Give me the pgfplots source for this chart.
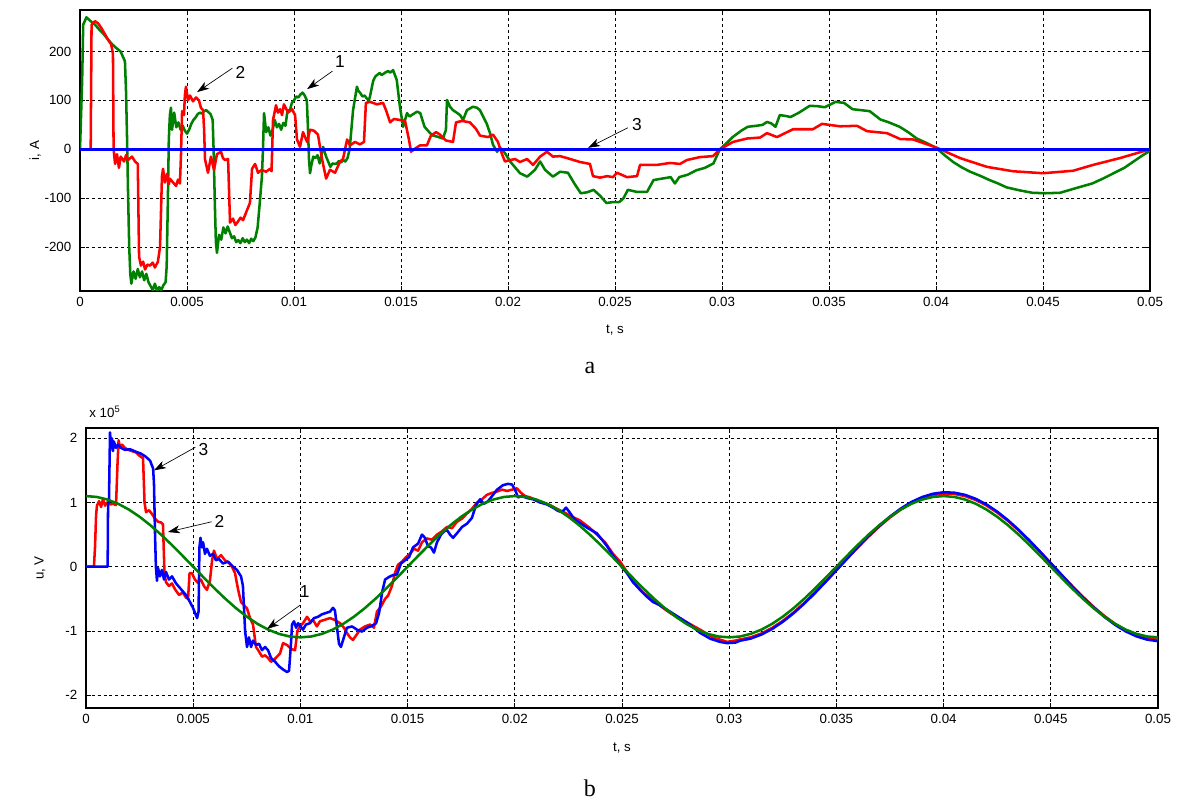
\documentclass[border=0pt]{standalone}
\usepackage{pgfplots}
\usepackage{pgfplotstable}
\pgfplotsset{compat=1.18}
\usepackage{fontspec}
\setmainfont{Liberation Sans}
\newfontfamily\serifface{Liberation Serif}
\usetikzlibrary{arrows.meta}
\definecolor{mred}{RGB}{255,0,0}
\definecolor{mgreen}{RGB}{0,128,0}
\definecolor{mblue}{RGB}{0,0,255}

% ---------- (a) currents, A ----------
\pgfplotstableread{
t i
0 0
0.0001 140
0.00015 255
0.0003 270
0.0005 262
0.0007 255
0.0009 245
0.0011 236
0.0013 225
0.0015 215
0.0017 207
0.0019 200
0.0020 190
0.0021 180
0.00215 120
0.0022 20
0.00225 -100
0.0023 -200
0.00235 -255
0.0024 -275
0.0025 -250
0.0026 -265
0.0027 -245
0.0028 -262
0.0029 -250
0.0030 -268
0.0031 -255
0.0032 -272
0.0033 -280
0.0034 -288
0.0035 -275
0.0036 -290
0.0037 -282
0.0038 -288
0.0039 -278
0.0040 -272
0.00405 -240
0.0041 -120
0.00415 20
0.0042 70
0.00425 85
0.0043 40
0.0044 75
0.0045 45
0.0046 55
0.0047 40
0.0048 48
0.0049 38
0.0050 32
0.0051 40
0.0052 52
0.0053 60
0.0054 65
0.0055 72
0.0056 75
0.0057 73
0.0058 78
0.0059 80
0.0060 76
0.0061 72
0.0062 60
0.00625 -10
0.0063 -110
0.00635 -190
0.0064 -212
0.0065 -175
0.0066 -185
0.0067 -160
0.0068 -172
0.0069 -158
0.0070 -170
0.0071 -182
0.0072 -178
0.0073 -190
0.0074 -186
0.0075 -192
0.0076 -182
0.0077 -190
0.0078 -185
0.0079 -192
0.0080 -183
0.0081 -188
0.0082 -180
0.0083 -160
0.0084 -110
0.0085 -56
0.00855 0
0.0086 74
0.0087 35
0.0088 45
0.0089 28
0.0090 40
0.0091 60
0.0092 45
0.0093 52
0.0094 40
0.0095 54
0.0096 48
0.0097 80
0.0098 78
0.0099 95
0.0100 100
0.0101 108
0.0102 106
0.0103 112
0.0104 116
0.0105 110
0.0106 100
0.01065 46
0.0107 -20
0.01075 -49
0.0108 -35
0.0109 -15
0.0110 -18
0.0111 -12
0.0112 -29
0.01136 5
0.0115 -15
0.0117 -36
0.0118 -29
0.0119 -30
0.0120 -29
0.0121 -24
0.0122 -27
0.0123 -22
0.0124 -25
0.0125 -18
0.0126 0
0.01276 80
0.01294 128
0.0130 120
0.0131 115
0.0132 108
0.0133 110
0.0134 104
0.0135 100
0.01355 108
0.0137 140
0.0138 149
0.0140 156
0.0141 152
0.0142 155
0.0143 158
0.0144 160
0.0145 157
0.01463 162
0.0148 142
0.01495 87
0.0151 46
0.01528 74
0.0154 67
0.0155 70
0.01575 77
0.0159 74
0.0161 46
0.01636 33
0.0165 28
0.01668 26
0.01696 22
0.0171 40
0.01715 101
0.01729 87
0.01743 80
0.0176 75
0.01776 70
0.0179 60
0.01808 80
0.01836 87
0.01855 85
0.01869 80
0.0190 53
0.01916 33
0.0193 9
0.01949 -5
0.01963 3
0.01986 -8
0.0201 -25
0.02056 -49
0.0209 -56
0.02126 -42
0.0215 -25
0.02173 -42
0.0221 -56
0.02243 -46
0.0228 -48
0.0231 -70
0.0234 -90
0.0237 -88
0.0240 -83
0.0243 -95
0.0246 -110
0.0249 -108
0.0252 -108
0.0254 -100
0.0256 -83
0.0260 -87
0.0265 -87
0.0268 -63
0.0272 -60
0.0276 -57
0.0278 -70
0.0280 -57
0.0284 -52
0.0288 -43
0.0292 -38
0.0296 -29
0.0299 0
0.0302 12
0.0305 25
0.0309 38
0.0312 46
0.0316 48
0.0319 50
0.0321 56
0.0323 53
0.0325 46
0.0327 70
0.0330 68
0.0332 66
0.0336 75
0.0341 89
0.0345 88
0.0348 86
0.0353 97
0.0357 95
0.0361 82
0.0365 80
0.0369 78
0.0374 61
0.0378 55
0.0383 46
0.0387 35
0.0391 22
0.0396 12
0.0400 3
0.0404 -12
0.0408 -26
0.0412 -37
0.0416 -46
0.0421 -55
0.0425 -63
0.0429 -70
0.0433 -78
0.0439 -84
0.0445 -89
0.0451 -90
0.0458 -89
0.0465 -80
0.0473 -70
0.0478 -60
0.0483 -49
0.0488 -38
0.0492 -26
0.0496 -14
0.0500 -3
}\curA

\pgfplotstableread{
t i
0 0
0.0005 0
0.00054 255
0.0007 262
0.00084 258
0.0010 248
0.00117 235
0.0013 225
0.00145 215
0.0015 205
0.00154 195
0.00157 0
0.00164 -30
0.00173 -10
0.00182 -38
0.0019 -15
0.00206 -25
0.00215 -12
0.00224 -22
0.00243 -15
0.00257 -25
0.0027 -30
0.00276 -220
0.00285 -238
0.00295 -230
0.00304 -246
0.00315 -236
0.00327 -238
0.0034 -232
0.0035 -242
0.00364 -230
0.00374 -200
0.00379 -120
0.00383 -55
0.00388 -40
0.00397 -68
0.00407 -50
0.00415 -72
0.0042 -60
0.00435 -68
0.00449 -75
0.00458 -62
0.00467 -70
0.00472 -10
0.00477 78
0.00486 70
0.0049 110
0.00495 128
0.00505 100
0.00514 110
0.00528 98
0.00542 106
0.00556 100
0.00565 85
0.00575 80
0.0058 40
0.00584 -20
0.00598 -48
0.00612 -15
0.00626 -42
0.0064 -10
0.00659 -5
0.00668 -18
0.00678 -22
0.00692 -20
0.00701 -150
0.00715 -142
0.00726 -155
0.00738 -148
0.0075 -140
0.00762 -145
0.0078 -125
0.00794 -110
0.00804 -40
0.00818 -30
0.00832 -48
0.0085 -42
0.00869 -46
0.00888 -40
0.00895 -45
0.00902 60
0.00916 90
0.00925 75
0.00935 82
0.00944 70
0.00953 92
0.00972 75
0.00991 82
0.01005 70
0.01014 20
0.01028 5
0.01042 35
0.01061 15
0.01075 40
0.01093 38
0.01112 30
0.01131 -20
0.0115 -60
0.01168 -42
0.01192 -48
0.01215 -25
0.01229 -20
0.01248 20
0.01262 8
0.01285 15
0.01308 10
0.01327 15
0.01336 95
0.01355 97
0.01388 92
0.01416 95
0.0143 80
0.01449 55
0.01467 62
0.01495 60
0.01519 58
0.01537 20
0.01547 -5
0.01561 0
0.01589 8
0.01621 8
0.0164 28
0.01664 35
0.01682 30
0.0171 18
0.01743 15
0.01757 55
0.01785 58
0.01822 55
0.0185 42
0.01869 28
0.01907 25
0.0193 30
0.01953 15
0.01972 -10
0.01986 -25
0.0201 -22
0.02033 -20
0.02056 -26
0.02089 -20
0.02117 -32
0.0215 -15
0.02182 -5
0.0221 -15
0.02243 -14
0.02276 -18
0.02336 -26
0.02383 -30
0.02397 -55
0.0243 -58
0.02463 -55
0.02491 -57
0.02509 -48
0.02556 -57
0.02603 -55
0.02617 -32
0.02696 -32
0.02757 -28
0.02804 -30
0.02836 -22
0.02897 -16
0.02958 -14
0.02991 0
0.03051 15
0.03117 22
0.03178 24
0.0321 33
0.03257 25
0.03332 41
0.03425 41
0.03467 52
0.03551 47
0.03631 48
0.03678 37
0.03771 33
0.03832 21
0.03893 20
0.04005 3
0.04112 -18
0.04238 -36
0.0436 -45
0.045 -49
0.0464 -44
0.04734 -32
0.0486 -18
0.05 0
}\curB

\pgfplotstableread{
t i
0 0
0.05 0
}\curC

% ---------- (b) voltages, 10^5 V ----------
\pgfplotstableread{
t u
0 1.1
0.0005 1.0865
0.001 1.0462
0.0015 0.9801
0.002 0.8899
0.0025 0.7778
0.003 0.6466
0.0035 0.4994
0.004 0.3399
0.0045 0.1720
0.005 0
0.0055 -0.1720
0.006 -0.3399
0.0065 -0.4994
0.007 -0.6466
0.0075 -0.7778
0.008 -0.8899
0.0085 -0.9801
0.009 -1.0462
0.0095 -1.0865
0.01 -1.1
0.0105 -1.0865
0.011 -1.0462
0.0115 -0.9801
0.012 -0.8899
0.0125 -0.7778
0.013 -0.6466
0.0135 -0.4994
0.014 -0.3399
0.0145 -0.1720
0.015 0
0.0155 0.1720
0.016 0.3399
0.0165 0.4994
0.017 0.6466
0.0175 0.7778
0.018 0.8899
0.0185 0.9801
0.019 1.0462
0.0195 1.0865
0.02 1.1
0.0205 1.0865
0.021 1.0462
0.0215 0.9801
0.022 0.8899
0.0225 0.7778
0.023 0.6466
0.0235 0.4994
0.024 0.3399
0.0245 0.1720
0.025 0
0.0255 -0.1720
0.026 -0.3399
0.0265 -0.4994
0.027 -0.6466
0.0275 -0.7778
0.028 -0.8899
0.0285 -0.9801
0.029 -1.0462
0.0295 -1.0865
0.03 -1.1
0.0305 -1.0865
0.031 -1.0462
0.0315 -0.9801
0.032 -0.8899
0.0325 -0.7778
0.033 -0.6466
0.0335 -0.4994
0.034 -0.3399
0.0345 -0.1720
0.035 0
0.0355 0.1720
0.036 0.3399
0.0365 0.4994
0.037 0.6466
0.0375 0.7778
0.038 0.8899
0.0385 0.9801
0.039 1.0462
0.0395 1.0865
0.04 1.1
0.0405 1.0865
0.041 1.0462
0.0415 0.9801
0.042 0.8899
0.0425 0.7778
0.043 0.6466
0.0435 0.4994
0.044 0.3399
0.0445 0.1720
0.045 0
0.0455 -0.1720
0.046 -0.3399
0.0465 -0.4994
0.047 -0.6466
0.0475 -0.7778
0.048 -0.8899
0.0485 -0.9801
0.049 -1.0462
0.0495 -1.0865
0.05 -1.1
}\volA

\pgfplotstableread{
t u
0 0
0.00037 0
0.00042 0.3
0.00047 0.8
0.00051 0.95
0.00061 1.02
0.0007 0.93
0.00079 1.05
0.00089 0.95
0.00098 1.0
0.00112 0.97
0.00126 0.98
0.0014 0.96
0.00147 1.6
0.00152 1.97
0.00159 1.85
0.00168 1.9
0.00182 1.85
0.00196 1.82
0.00215 1.8
0.00233 1.78
0.00252 1.72
0.00266 1.69
0.00273 1.0
0.0028 0.85
0.00294 0.88
0.00308 0.82
0.00322 0.75
0.00336 0.7
0.0035 0.69
0.00359 0.66
0.00366 -0.1
0.00373 -0.24
0.00387 -0.3
0.00401 -0.26
0.00415 -0.35
0.00434 -0.44
0.00452 -0.4
0.00466 -0.48
0.00476 -0.5
0.00483 -0.1
0.00494 -0.1
0.00508 -0.2
0.00522 -0.25
0.00536 -0.2
0.0055 -0.3
0.00564 -0.36
0.00578 -0.22
0.00588 0.1
0.00597 0.25
0.00611 0.12
0.0063 0.18
0.00648 0.1
0.00667 0.06
0.00681 0.0
0.00695 -0.1
0.00709 -0.35
0.00723 -0.55
0.00737 -0.6
0.00751 -0.65
0.00765 -0.8
0.00779 -0.9
0.00793 -1.25
0.00807 -1.32
0.00821 -1.4
0.00835 -1.38
0.00849 -1.42
0.00863 -1.48
0.00877 -1.45
0.00891 -1.4
0.00905 -1.35
0.00919 -1.19
0.00938 -1.22
0.00956 -1.28
0.00975 -1.3
0.00986 -1.0
0.00998 -0.93
0.01012 -0.88
0.01031 -0.78
0.01045 -0.85
0.01059 -0.83
0.01077 -0.93
0.01091 -0.85
0.0111 -0.83
0.01138 -0.8
0.01161 -0.83
0.01185 -0.88
0.01203 -0.95
0.01217 -1.03
0.01231 -1.1
0.01245 -1.14
0.01264 -1.05
0.01278 -0.98
0.01301 -0.93
0.01325 -0.9
0.01343 -0.95
0.01357 -0.7
0.01376 -0.62
0.01395 -0.5
0.01409 -0.45
0.01427 -0.3
0.01441 -0.1
0.01455 0.03
0.01474 0.08
0.01493 0.15
0.01511 0.2
0.0153 0.28
0.01549 0.25
0.01567 0.38
0.0159 0.44
0.01614 0.42
0.01637 0.5
0.0166 0.55
0.01684 0.62
0.01707 0.6
0.0173 0.7
0.01754 0.75
0.01777 0.83
0.018 0.9
0.01824 1.0
0.01847 1.05
0.0187 1.12
0.01894 1.15
0.01917 1.17
0.0194 1.2
0.01964 1.18
0.01987 1.2
0.0201 1.22
0.02029 1.15
0.02048 1.1
0.02071 1.08
0.02104 1.03
0.02132 1.0
0.02164 0.96
0.02197 0.9
0.02234 0.84
0.02267 0.78
0.02304 0.72
0.02351 0.6
0.02383 0.5
0.02421 0.38
0.02458 0.2
0.02491 0.08
0.02523 -0.08
0.02551 -0.22
0.02598 -0.4
0.02645 -0.52
0.02687 -0.63
0.02724 -0.72
0.02794 -0.85
0.02864 -0.98
0.02924 -1.1
0.0299 -1.17
0.0303 -1.15
0.0305 -1.133
0.031 -1.100
0.0315 -1.039
0.032 -0.953
0.0325 -0.843
0.033 -0.713
0.0335 -0.565
0.034 -0.403
0.0345 -0.231
0.035 -0.054
0.0355 0.125
0.036 0.301
0.0365 0.469
0.037 0.626
0.0375 0.767
0.038 0.890
0.0385 0.990
0.039 1.066
0.0395 1.116
0.040 1.139
0.0405 1.133
0.041 1.100
0.0415 1.039
0.042 0.953
0.0425 0.843
0.043 0.713
0.0435 0.565
0.044 0.403
0.0445 0.231
0.045 0.054
0.0455 -0.125
0.046 -0.301
0.0465 -0.469
0.047 -0.626
0.0475 -0.767
0.048 -0.890
0.0485 -0.990
0.049 -1.066
0.0495 -1.116
0.050 -1.139
}\volB

\pgfplotstableread{
t u
0 0
0.00101 0
0.00103 1.0
0.00107 1.0
0.00112 2.09
0.00117 1.85
0.00121 2.0
0.00126 1.8
0.0013 1.95
0.0014 1.85
0.00149 1.9
0.00163 1.85
0.00182 1.82
0.00205 1.83
0.00233 1.79
0.00257 1.76
0.0028 1.71
0.00299 1.65
0.00313 1.53
0.00317 1.3
0.00322 0.5
0.00326 0.0
0.00331 -0.22
0.00336 -0.02
0.00345 -0.15
0.00354 -0.05
0.00364 -0.2
0.00373 -0.08
0.00387 -0.2
0.00401 -0.15
0.0042 -0.26
0.00443 -0.35
0.00466 -0.44
0.00485 -0.55
0.00499 -0.64
0.00518 -0.8
0.00525 -0.7
0.00529 0.3
0.00534 0.45
0.00541 0.3
0.00546 0.38
0.00555 0.2
0.00564 0.28
0.00578 0.17
0.00592 0.2
0.00606 0.1
0.0062 0.12
0.00639 0.05
0.00662 0.08
0.00686 0.0
0.00704 -0.05
0.00723 -0.15
0.00732 -0.3
0.00742 -1.0
0.00751 -1.25
0.0076 -1.1
0.0077 -1.25
0.00779 -1.15
0.00793 -1.22
0.00807 -1.2
0.00821 -1.3
0.00835 -1.25
0.00849 -1.3
0.00863 -1.42
0.00882 -1.48
0.009 -1.55
0.00919 -1.6
0.00938 -1.64
0.00947 -1.62
0.00956 -1.2
0.00961 -0.9
0.0097 -0.85
0.0098 -0.95
0.00989 -0.88
0.00998 -0.92
0.01012 -0.98
0.01026 -0.9
0.01045 -0.88
0.01063 -0.8
0.01082 -0.78
0.01101 -0.74
0.01119 -0.72
0.01138 -0.7
0.01152 -0.64
0.01161 -0.68
0.01171 -0.95
0.0118 -1.2
0.01189 -1.25
0.01203 -1.1
0.01217 -0.95
0.01241 -0.93
0.01264 -0.98
0.01287 -1.01
0.01311 -0.95
0.01334 -0.92
0.01353 -0.88
0.01367 -0.72
0.01381 -0.4
0.01395 -0.2
0.01413 -0.16
0.01432 -0.13
0.0145 -0.12
0.01469 0.05
0.01488 0.1
0.01507 0.15
0.01525 0.3
0.01549 0.36
0.01567 0.5
0.01581 0.45
0.01595 0.32
0.01609 0.3
0.01623 0.22
0.01637 0.38
0.01656 0.5
0.0167 0.55
0.01684 0.57
0.01698 0.5
0.01712 0.45
0.0173 0.52
0.01754 0.62
0.01777 0.67
0.018 0.76
0.01819 0.96
0.01838 1.05
0.01856 0.98
0.01875 1.02
0.01894 1.1
0.01917 1.2
0.01945 1.27
0.01968 1.29
0.01987 1.28
0.02001 1.2
0.02015 1.08
0.02034 1.1
0.02057 1.07
0.02085 1.05
0.02118 1.0
0.0215 0.97
0.02178 0.92
0.02201 0.87
0.0222 0.85
0.02239 0.92
0.02253 0.86
0.02276 0.75
0.02304 0.68
0.02341 0.6
0.02383 0.52
0.02407 0.42
0.0243 0.32
0.02463 0.15
0.02491 0.03
0.02523 -0.1
0.02551 -0.24
0.02584 -0.36
0.02617 -0.47
0.02645 -0.55
0.02677 -0.6
0.02724 -0.7
0.02771 -0.8
0.02817 -0.9
0.02864 -1.03
0.02911 -1.12
0.02957 -1.17
0.0299 -1.19
0.0303 -1.18
0.0305 -1.153
0.031 -1.119
0.0315 -1.057
0.032 -0.970
0.0325 -0.858
0.033 -0.725
0.0335 -0.575
0.034 -0.410
0.0345 -0.235
0.035 -0.055
0.0355 0.127
0.036 0.306
0.0365 0.477
0.037 0.637
0.0375 0.781
0.038 0.905
0.0385 1.008
0.039 1.085
0.0395 1.136
0.040 1.159
0.0405 1.153
0.041 1.119
0.0415 1.057
0.042 0.970
0.0425 0.858
0.043 0.725
0.0435 0.575
0.044 0.410
0.0445 0.235
0.045 0.055
0.0455 -0.127
0.046 -0.306
0.0465 -0.477
0.047 -0.637
0.0475 -0.781
0.048 -0.905
0.0485 -1.008
0.049 -1.085
0.0495 -1.136
0.050 -1.159
}\volC

\pgfplotsset{
  matlab/.style={
    scale only axis,
    clip mode=individual,
    scaled x ticks=false,
    scaled y ticks=false,
    axis line style={black, line width=0.8pt},
    tick align=inside,
    tick pos=both,
    major tick length=4pt,
    tick style={black, line width=0.6pt},
    grid=major,
    grid style={black, line width=0.5pt, dash pattern=on 2.2pt off 2.2pt},
    xmin=0, xmax=0.05,
    xtick={0,0.005,0.01,0.015,0.02,0.025,0.03,0.035,0.04,0.045,0.05},
    xticklabels={0,0.005,0.01,0.015,0.02,0.025,0.03,0.035,0.04,0.045,0.05},
    ticklabel style={font=\fontsize{10}{12}\selectfont, black},
    xticklabel style={yshift=-1pt},
    yticklabel style={xshift=-3pt},
    label style={font=\fontsize{10}{12}\selectfont, black},
  },
}
\tikzset{
  ann/.style={-{Stealth[length=9pt,width=6pt,inset=2.5pt]}, black, line width=0.5pt},
  annlab/.style={font=\fontsize{13}{15}\selectfont, black},
}

\begin{document}
\begin{tikzpicture}
\useasboundingbox (0,0) rectangle (885pt,602.25pt);

% ----- a -----
\begin{axis}[matlab,
  at={(60pt,384pt)}, anchor=south west,
  width=802.5pt, height=210.75pt,
  ymin=-290, ymax=285,
  ytick={-200,-100,0,100,200},
  yticklabels={-200,-100,0,100,200},
  xlabel={t, s}, ylabel={i, A},
  every axis x label/.style={at={(axis description cs:0.5,-0.138)}, anchor=center},
  every axis y label/.style={at={(axis description cs:-0.042,0.5)}, rotate=90, anchor=center},
]
\addplot[mgreen, line width=1.9pt, line join=round] table[x=t, y=i] {\curA};
\addplot[mred, line width=1.9pt, line join=round] table[x=t, y=i] {\curB};
\addplot[mblue, line width=1.9pt] table[x=t, y=i] {\curC};
\draw[ann] (axis cs:0.00712,166) -- (axis cs:0.00547,117);
\node[annlab] at (axis cs:0.00750,158) {2};
\draw[ann] (axis cs:0.01180,160) -- (axis cs:0.01061,123);
\node[annlab] at (axis cs:0.01215,180) {1};
\draw[ann] (axis cs:0.02560,44) -- (axis cs:0.02374,3);
\node[annlab] at (axis cs:0.02603,50) {3};
\node[font=\serifface\fontsize{18}{20}\selectfont] at (axis description cs:0.4766,-0.275) {a};
\end{axis}

% ----- b -----
\begin{axis}[matlab,
  at={(64.5pt,71.25pt)}, anchor=south west,
  width=804pt, height=210pt,
  ymin=-2.2, ymax=2.16,
  ytick={-2,-1,0,1,2},
  yticklabels={-2,-1,0,1,2},
  xlabel={t, s}, ylabel={u, V},
  every axis x label/.style={at={(axis description cs:0.5,-0.142)}, anchor=center},
  every axis y label/.style={at={(axis description cs:-0.043,0.5)}, rotate=90, anchor=center},
]
\addplot[mred, line width=1.9pt, line join=round] table[x=t, y=u] {\volB};
\addplot[mblue, line width=1.9pt, line join=round] table[x=t, y=u] {\volC};
\addplot[mgreen, line width=1.9pt, line join=round] table[x=t, y=u] {\volA};
\draw[ann] (axis cs:0.00510,1.86) -- (axis cs:0.00317,1.50);
\node[annlab] at (axis cs:0.00548,1.83) {3};
\draw[ann] (axis cs:0.00586,0.70) -- (axis cs:0.00382,0.54);
\node[annlab] at (axis cs:0.00622,0.71) {2};
\draw[ann] (axis cs:0.00998,-0.60) -- (axis cs:0.00844,-0.97);
\node[annlab] at (axis cs:0.01020,-0.39) {1};
\node[anchor=base west, font=\fontsize{10}{12}\selectfont, xshift=-1pt, yshift=8pt] at (rel axis cs:0,1) {x 10\textsuperscript{5}};
\node[font=\serifface\fontsize{18}{20}\selectfont] at (axis description cs:0.470,-0.288) {b};
\end{axis}
\end{tikzpicture}
\end{document}
